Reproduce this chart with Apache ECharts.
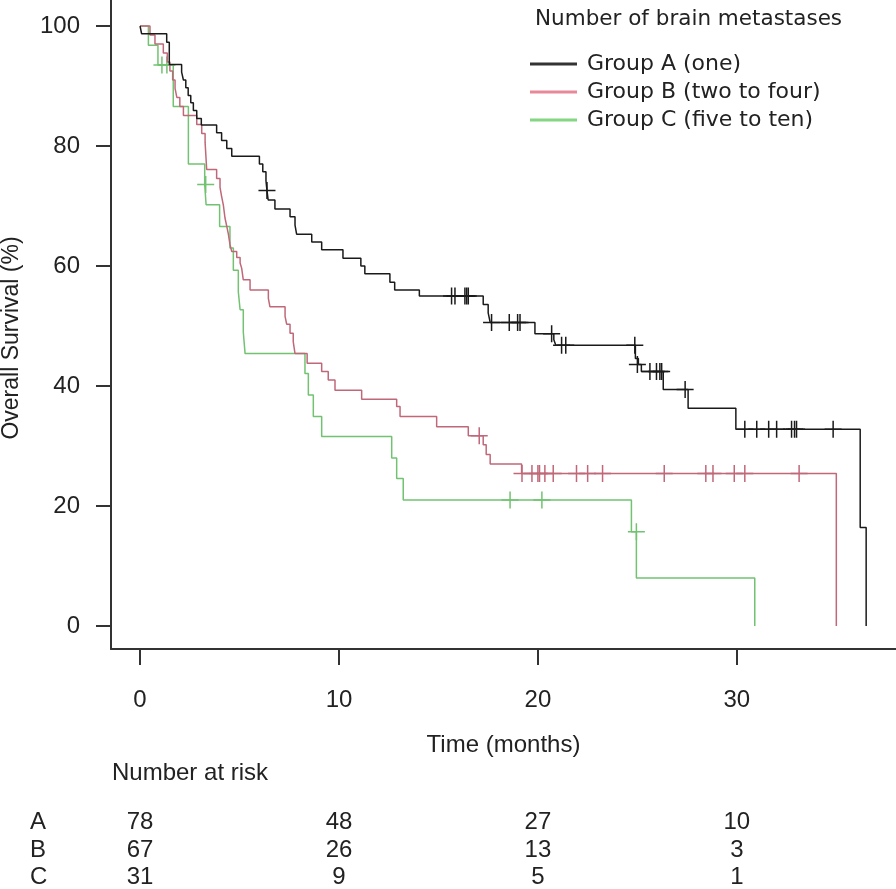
<!DOCTYPE html>
<html><head><meta charset="utf-8">
<script src="https://cdn.jsdelivr.net/npm/echarts@6/dist/echarts.min.js"></script>
<style>html,body{margin:0;padding:0;background:#fff}#c{width:896px;height:889px}</style>
</head><body><div id="c"></div>
<script>
// ---------- data ----------
const groupNames = ['Group A (one)', 'Group B (two to four)', 'Group C (five to ten)'];
const rowLabels = ['A', 'B', 'C'];
const xTicks = [0, 10, 20, 30];
const yTicks = [0, 20, 40, 60, 80, 100];
const riskTimes = [0, 10, 20, 30];
const riskA = [78, 48, 27, 10];
const riskB = [67, 26, 13, 3];
const riskC = [31, 9, 5, 1];

// Kaplan-Meier steps [time (months), survival (%)]
const survA = [[0,100],[0.08,98.7],[1.34,97.3],[1.47,93.6],[2.09,92.3],[2.18,91.0],[2.30,89.7],[2.42,88.4],[2.55,87.2],[2.68,85.9],[2.85,84.6],[3.08,83.5],[3.85,82.2],[4.10,80.9],[4.36,79.6],[4.61,78.3],[6.0,77.0],[6.17,75.7],[6.33,74.2],[6.38,72.6],[6.44,71.0],[6.78,69.5],[7.54,68.2],[7.79,66.8],[7.87,65.3],[8.63,64.0],[9.13,62.7],[10.2,61.3],[11.1,60.0],[11.3,58.7],[12.56,57.3],[12.8,56.0],[14.04,55.0],[17.25,53.6],[17.5,52.2],[17.6,50.6],[19.85,48.7],[20.8,47.7],[20.9,46.8],[24.9,44.6],[25.05,43.6],[25.2,42.4],[26.3,39.4],[27.55,36.3],[29.95,32.8],[36.2,16.4],[36.5,0]];
const censA = [[6.38,72.6],[15.66,55.0],[15.83,55.0],[16.33,55.0],[16.42,55.0],[16.5,55.0],[17.67,50.6],[18.56,50.6],[18.98,50.6],[19.1,50.6],[20.69,48.7],[21.19,46.8],[21.4,46.8],[24.87,46.8],[25.0,43.6],[25.63,42.4],[25.96,42.4],[26.13,42.4],[26.22,42.4],[27.4,39.4],[30.4,32.8],[31.0,32.8],[31.6,32.8],[32.0,32.8],[32.75,32.8],[32.9,32.8],[33.0,32.8],[34.84,32.8]];

const survB = [[0,100],[0.5,98.5],[0.75,97.0],[1.17,95.5],[1.37,94.0],[1.5,92.5],[1.64,91.0],[1.76,89.6],[1.85,88.1],[2.0,86.6],[2.18,85.1],[2.85,83.6],[3.10,82.1],[3.27,80.6],[3.35,76.1],[3.85,74.6],[4.02,73.1],[4.10,71.6],[4.19,70.1],[4.27,68.0],[4.36,66.6],[4.44,65.3],[4.52,63.6],[4.61,62.4],[4.86,61.4],[5.03,60.5],[5.11,59.6],[5.19,57.7],[5.53,56.0],[6.45,54.6],[6.53,53.2],[7.29,51.6],[7.37,50.3],[7.54,48.8],[7.70,47.4],[7.79,45.4],[8.4,43.8],[9.13,42.4],[9.46,41.0],[9.80,39.3],[11.14,37.8],[12.9,36.6],[13.07,34.9],[14.91,33.2],[16.5,31.7],[17.25,30.2],[17.4,28.6],[17.6,27.0],[19.18,25.4],[35.0,0]];
const censB = [[17.05,31.7],[19.2,25.4],[19.7,25.4],[20.0,25.4],[20.08,25.4],[20.35,25.4],[20.77,25.4],[21.94,25.4],[22.5,25.4],[23.25,25.4],[26.35,25.4],[28.44,25.4],[28.8,25.4],[29.87,25.4],[30.4,25.4],[33.13,25.4]];

const survC = [[0,100],[0.42,96.8],[0.9,93.5],[1.67,86.6],[2.43,77.0],[3.25,73.6],[3.32,70.2],[4.0,66.6],[4.52,63.0],[4.69,59.3],[4.94,55.7],[5.03,52.7],[5.19,49.0],[5.28,45.4],[8.29,42.1],[8.46,38.5],[8.71,34.9],[9.13,31.6],[12.65,28.0],[12.9,24.6],[13.23,21.0],[24.7,15.7],[24.95,8.0],[30.9,0]];
const censC = [[1.1,93.5],[1.35,93.5],[3.3,73.6],[18.6,21.0],[20.2,21.0],[24.95,15.7]];

// ---------- styling ----------
const SANS = '"Liberation Sans", Arial, sans-serif';
const VERD = '"DejaVu Sans", Verdana, sans-serif';
const lineColors = ['#1a1a1a', '#c0687a', '#72c272'];
const legendColors = ['#333333', '#e8899a', '#84d684'];
const PLUS = 'path://M0,7.75 H17 V9.25 H0 Z M7.75,0 H9.25 V17 H7.75 Z';

const chart = echarts.init(document.getElementById('c'), null, {renderer: 'canvas'});

const survs = [survA, survB, survC];
const cens = [censA, censB, censC];
const series = [];
survs.forEach((d, i) => {
  series.push({
    name: groupNames[i], type: 'line', step: 'end', data: d,
    showSymbol: false, symbol: 'none', silent: true,
    lineStyle: {color: lineColors[i], width: 1.5},
    itemStyle: {color: legendColors[i]}, z: 3 - i
  });
});
cens.forEach((d, i) => {
  series.push({
    name: 'cens' + i, type: 'scatter', data: d, symbol: PLUS, symbolSize: [17, 17],
    itemStyle: {color: lineColors[i], opacity: 1}, silent: true, z: 3 - i
  });
});

chart.setOption({
  animation: false,
  backgroundColor: '#fff',
  grid: {left: 111, right: 0, top: 0, bottom: 240, containLabel: false},
  xAxis: {
    type: 'value', min: -1.46, max: 38.0,
    name: 'Time (months)', nameLocation: 'middle', nameGap: 84,
    nameTextStyle: {fontFamily: SANS, fontSize: 24, color: '#222'},
    axisLine: {show: true, onZero: false, lineStyle: {color: '#333', width: 2}},
    axisTick: {show: true, customValues: xTicks, length: 16, lineStyle: {color: '#333', width: 2}},
    axisLabel: {customValues: xTicks, margin: 39, fontFamily: SANS, fontSize: 24, color: '#222'},
    splitLine: {show: false}
  },
  yAxis: {
    type: 'value', min: -3.83, max: 104.33,
    axisLine: {show: true, onZero: false, lineStyle: {color: '#333', width: 2}},
    axisTick: {show: true, customValues: yTicks, length: 15, lineStyle: {color: '#333', width: 2}},
    axisLabel: {customValues: yTicks, margin: 31, fontFamily: SANS, fontSize: 24, color: '#222'},
    splitLine: {show: false}
  },
  legend: {
    data: groupNames.map((n, i) => ({name: n, itemStyle: {color: legendColors[i]}})),
    orient: 'vertical', left: 530, top: 53, padding: 0, itemWidth: 47, itemHeight: 3, itemGap: 6,
    icon: 'rect',
    textStyle: {fontFamily: VERD, fontSize: 22, color: '#222', lineHeight: 22, padding: [0, 0, 0, 5]},
    selectedMode: false
  },
  series: series
});

// ---------- texts (legend title, y name, at-risk table) ----------
const graphics = [
  {type: 'text', left: 535, top: 8, style: {text: 'Number of brain metastases', font: '21.5px ' + VERD, fill: '#222'}},
  {type: 'text', x: 12, y: 338, rotation: Math.PI / 2,
   style: {text: 'Overall Survival (%)', font: '23px ' + SANS, fill: '#222', align: 'center', verticalAlign: 'middle'}},
  {type: 'text', x: 112, y: 773, style: {text: 'Number at risk', font: '24px ' + SANS, fill: '#222', verticalAlign: 'middle'}}
];
const risks = [riskA, riskB, riskC];
const rowY = [822, 850, 877];
risks.forEach((r, i) => {
  graphics.push({type: 'text', x: 30, y: rowY[i], style: {text: rowLabels[i], font: '24px ' + SANS, fill: '#222', verticalAlign: 'middle'}});
  r.forEach((v, j) => {
    const px = chart.convertToPixel({xAxisIndex: 0}, riskTimes[j]);
    graphics.push({type: 'text', x: px, y: rowY[i], style: {text: String(v), font: '24px ' + SANS, fill: '#222', align: 'center', verticalAlign: 'middle'}});
  });
});
chart.setOption({graphic: graphics});
</script></body></html>
